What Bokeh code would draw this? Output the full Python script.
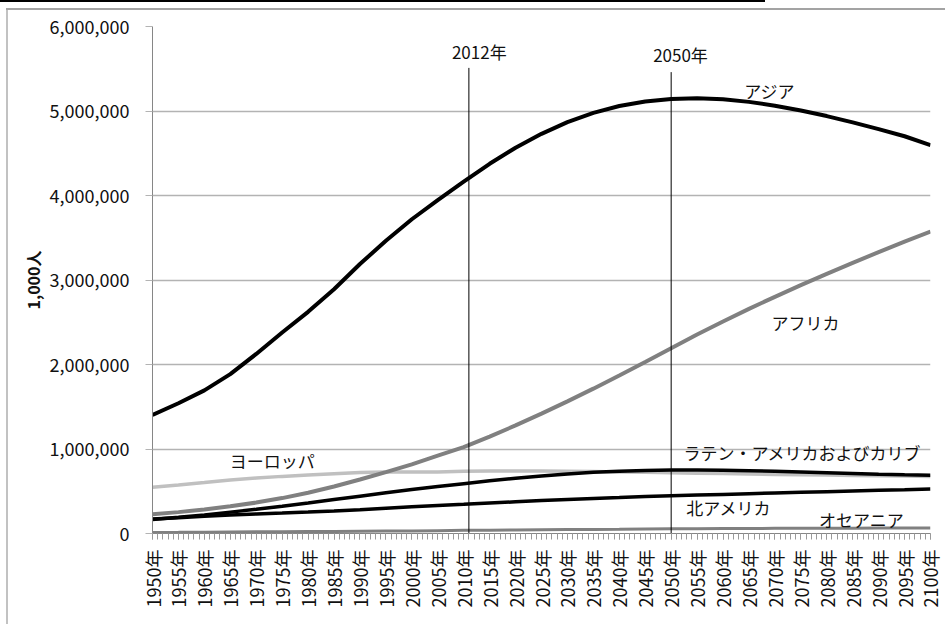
from bokeh.plotting import figure
from bokeh.models import Range1d, FixedTicker, NumeralTickFormatter
from bokeh.core.properties import value
from bokeh.embed import file_html
from bokeh.resources import INLINE

# ---------------- data (population, 1,000 persons) ----------------
years = list(range(1950, 2101, 5))
asia = [1403, 1542, 1694, 1886, 2125, 2379, 2623, 2890, 3189, 3464, 3719, 3945, 4164,
        4375, 4565, 4730, 4868, 4978, 5059, 5112, 5142, 5150, 5138, 5108, 5063, 5006,
        4940, 4866, 4786, 4701, 4596]
africa = [227, 253, 285, 322, 366, 419, 482, 556, 639, 726, 819, 921, 1022, 1147, 1279,
          1418, 1564, 1714, 1870, 2030, 2192, 2354, 2509, 2658, 2801, 2939, 3073, 3203,
          3330, 3454, 3574]
europe = [547, 575, 604, 634, 656, 676, 693, 707, 721, 727, 727, 729, 738, 740, 741, 741,
          738, 734, 729, 724, 719, 714, 709, 704, 699, 695, 691, 687, 683, 679, 675]
latam = [167, 191, 220, 253, 286, 323, 362, 402, 442, 482, 521, 557, 590, 623, 654, 681,
         705, 724, 738, 747, 751, 751, 748, 743, 736, 728, 719, 710, 701, 694, 688]
namerica = [172, 187, 204, 219, 231, 242, 254, 267, 282, 299, 316, 331, 345, 360, 375, 390,
            403, 415, 426, 438, 447, 455, 463, 471, 479, 487, 495, 503, 511, 518, 526]
oceania = [13, 14, 16, 18, 20, 21, 23, 25, 27, 29, 31, 34, 37, 39, 41, 44, 46, 48, 50, 53,
           55, 56, 58, 59, 61, 61, 62, 63, 64, 64, 65]

tick_years = list(range(1950, 2101, 5))
tick_labels = [f"{y}年" for y in tick_years]
minor_years = list(range(1950, 2101))
y_ticks = [0, 1000000, 2000000, 3000000, 4000000, 5000000, 6000000]

marker_years = [2011, 2050]
marker_tops = [5510000, 5460000]
marker_texts = ["2012年", "2050年"]
marker_text_x = [2013.0, 2051.8]
marker_text_y = [5700000, 5665000]

region_names = ["アジア", "アフリカ", "ヨーロッパ", "ラテン・アメリカおよびカリブ", "北アメリカ", "オセアニア"]
region_label_x = [2069.0, 2075.9, 1973.1, 2075.3, 2061.1, 2086.7]
region_label_y = [5240000, 2500000, 864000, 962000, 311000, 162000]

K = 1000
FONT = "Noto Sans CJK JP"

p = figure(width=945, height=624, output_backend="svg", toolbar_location=None,
           x_range=Range1d(1950, 2100), y_range=Range1d(0, 6000000),
           min_border_left=152, min_border_right=15, min_border_top=26, min_border_bottom=91)
# outer chart frame (top / left edges) and the thin rule above it, drawn behind the canvas
p.styles = {"background": (
    "linear-gradient(#000000,#000000) 0px 0px / 765px 2px no-repeat, "
    "linear-gradient(#a3a3a3,#a3a3a3) 6px 8px / 100% 2px no-repeat, "
    "linear-gradient(#c2c2c2,#c2c2c2) 6px 8px / 2px 100% no-repeat, "
    "#ffffff")}
p.outline_line_color = None
p.background_fill_color = "white"
p.border_fill_color = None

# grid
p.xgrid.grid_line_color = None
p.ygrid.grid_line_color = "#b3b3b3"
p.ygrid.grid_line_width = 1.5

# axes
p.xaxis.ticker = FixedTicker(ticks=tick_years, minor_ticks=minor_years)
p.xaxis.major_label_overrides = {y: lab for y, lab in zip(tick_years, tick_labels)}
p.xaxis.major_label_orientation = 1.5707963
p.xaxis.major_tick_in = 0
p.xaxis.major_tick_out = 6
p.xaxis.minor_tick_in = 0
p.xaxis.minor_tick_out = 6
p.xaxis.major_label_standoff = 10

p.yaxis.ticker = FixedTicker(ticks=y_ticks, minor_ticks=[])
p.yaxis.formatter = NumeralTickFormatter(format="0,0")
p.yaxis.major_tick_in = 0
p.yaxis.major_tick_out = 7
p.yaxis.major_label_standoff = 16
p.yaxis.axis_label = "1,000人"
p.yaxis.axis_label_text_font = FONT
p.yaxis.axis_label_text_font_style = "bold"
p.yaxis.axis_label_text_font_size = "16px"
p.yaxis.axis_label_text_color = "#111111"
p.yaxis.axis_label_standoff = 2

for ax in (p.xaxis, p.yaxis):
    ax.axis_line_color = "#868686"
    ax.axis_line_width = 1
    ax.major_tick_line_color = "#9a9a9a"
    ax.minor_tick_line_color = "#9a9a9a"
    ax.major_label_text_font = FONT
    ax.major_label_text_font_size = "18px"
    ax.major_label_text_color = "#111111"
p.yaxis.major_tick_line_color = "#b3b3b3"

# series
def scaled(vals):
    return [v * K for v in vals]

p.line(years, scaled(europe), line_color="#c0c0c0", line_width=3.5)
p.line(years, scaled(africa), line_color="#808080", line_width=4)
p.line(years, scaled(latam), line_color="black", line_width=3.5)
p.line(years, scaled(namerica), line_color="black", line_width=3.5)
p.line(years, scaled(oceania), line_color="#808080", line_width=3)
p.line(years, scaled(asia), line_color="black", line_width=4)

# marker lines
p.segment(x0=marker_years, y0=[0, 0], x1=marker_years, y1=marker_tops,
          line_color="black", line_width=1)
p.text(x=marker_text_x, y=marker_text_y, text=marker_texts, text_align="center",
       text_baseline="middle", text_font=value(FONT), text_font_size="17px",
       text_color="#111111")

# region labels
p.text(x=region_label_x, y=region_label_y, text=region_names, text_align="center",
       text_baseline="middle", text_font=value(FONT), text_font_size="17px",
       text_color="#111111")

open("out.html", "w").write(file_html(p, INLINE))
